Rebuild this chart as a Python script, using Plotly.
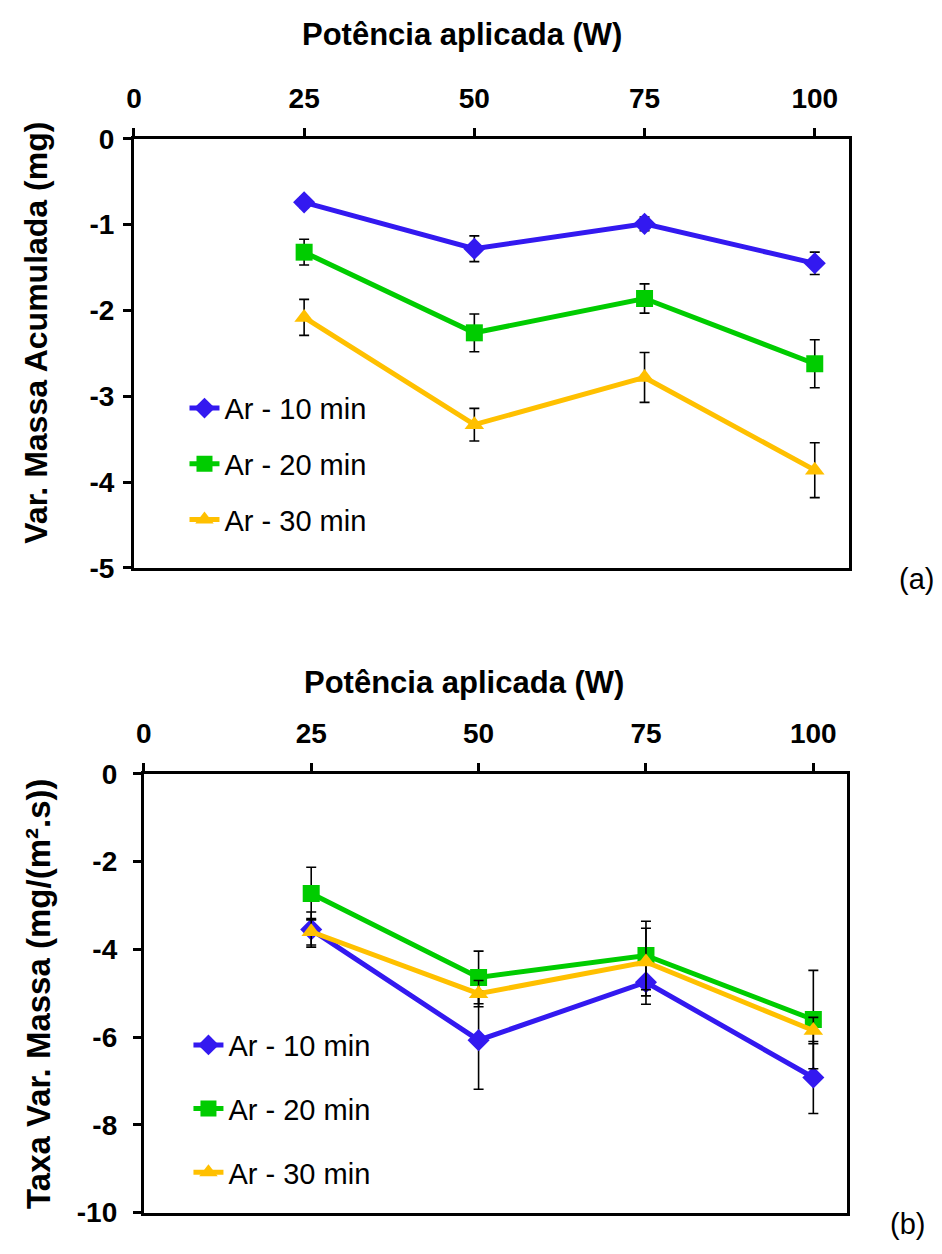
import plotly.graph_objects as go

W, H = 942, 1254
power = [25, 50, 75, 100]
x_ticks = [0, 25, 50, 75, 100]
x_ticktext = ["0", "25", "50", "75", "100"]
ya_ticks = [0, -1, -2, -3, -4, -5]
ya_ticktext = ["0", "-1", "-2", "-3", "-4", "-5"]
yb_ticks = [0, -2, -4, -6, -8, -10]
yb_ticktext = ["0", "-2", "-4", "-6", "-8", "-10"]
names = ["Ar - 10 min", "Ar - 20 min", "Ar - 30 min"]
colors = ["#3319F0", "#00CC00", "#FFC000"]
symbols = ["diamond", "square", "triangle-up"]
msizes = [17, 17, 17]

# Panel (a): accumulated mass variation (mg)
a_vals = [
    [-0.74, -1.28, -0.99, -1.45],
    [-1.32, -2.26, -1.86, -2.62],
    [-2.08, -3.33, -2.78, -3.86],
]
a_err = [
    [0.06, 0.15, 0.08, 0.13],
    [0.15, 0.22, 0.17, 0.28],
    [0.21, 0.19, 0.29, 0.32],
]
# Panel (b): mass variation rate (mg/(m².s))
b_vals = [
    [-3.55, -6.07, -4.75, -6.92],
    [-2.73, -4.64, -4.14, -5.60],
    [-3.60, -5.01, -4.29, -5.85],
]
b_err = [
    [0.40, 1.12, 0.50, 0.82],
    [0.60, 0.60, 0.78, 1.12],
    [0.30, 0.30, 0.77, 0.30],
]

FONT = "Liberation Sans, Arial, sans-serif"
fig = go.Figure()

for i in range(3):
    fig.add_trace(go.Scatter(
        x=power, y=a_vals[i], name=names[i], mode="lines+markers",
        line=dict(color=colors[i], width=5),
        marker=dict(symbol=symbols[i], size=msizes[i], color=colors[i]),
        error_y=dict(type="data", array=a_err[i], color="black", thickness=1.6, width=5),
        xaxis="x", yaxis="y", legend="legend", legendgroup="a%d" % i,
    ))
for i in range(3):
    fig.add_trace(go.Scatter(
        x=power, y=b_vals[i], name=names[i], mode="lines+markers",
        line=dict(color=colors[i], width=5),
        marker=dict(symbol=symbols[i], size=msizes[i], color=colors[i]),
        error_y=dict(type="data", array=b_err[i], color="black", thickness=1.6, width=5),
        xaxis="x2", yaxis="y2", legend="legend2", legendgroup="b%d" % i,
    ))

def px_x(p):
    return p / W

def px_y(p):
    return 1 - p / H

tickfont = dict(family=FONT, size=28, color="black", weight="bold")
common_x = dict(side="top", range=[0, 105], tickvals=x_ticks, ticktext=x_ticktext,
                ticks="outside", ticklen=8, tickwidth=3, tickcolor="black", showline=True,
                linewidth=3, linecolor="black", mirror=True, showgrid=False, zeroline=False,
                tickfont=tickfont, ticklabelstandoff=9)
common_y = dict(ticks="outside", ticklen=8, tickwidth=3, tickcolor="black", showline=True,
                linewidth=3, linecolor="black", mirror=True, showgrid=False, zeroline=False,
                tickfont=tickfont)

legend_common = dict(font=dict(family=FONT, size=29, color="black"), bgcolor="rgba(0,0,0,0)",
                     traceorder="grouped", xanchor="left", yanchor="top", itemwidth=30)

fig.update_layout(
    width=W, height=H, margin=dict(l=0, r=0, t=0, b=0),
    paper_bgcolor="white", plot_bgcolor="white",
    xaxis=dict(common_x, domain=[px_x(127), px_x(848)], anchor="y"),
    yaxis=dict(common_y, domain=[px_y(567), px_y(127)], range=[-5, 0],
               tickvals=ya_ticks, ticktext=ya_ticktext, anchor="x", ticklabelstandoff=3),
    xaxis2=dict(common_x, domain=[px_x(137), px_x(846)], anchor="y2"),
    yaxis2=dict(common_y, domain=[px_y(1228), px_y(778)], range=[-10, 0],
                tickvals=yb_ticks, ticktext=yb_ticktext, anchor="x2", ticklabelstandoff=10),
    legend=dict(legend_common, x=px_x(178), y=px_y(377), tracegroupgap=15),
    legend2=dict(legend_common, x=px_x(182), y=px_y(1030), tracegroupgap=23),
    showlegend=True,
)

title_font = dict(family=FONT, size=31, color="black", weight="bold")
ann = [
    dict(text="Potência aplicada (W)", x=px_x(458), y=px_y(20), font=title_font),
    dict(text="Potência aplicada (W)", x=px_x(460), y=px_y(684), font=title_font),
    dict(text="Var. Massa Acumulada (mg)", x=px_x(28), y=px_y(326),
         font=dict(title_font, size=32), textangle=-90),
    dict(text="Taxa Var. Massa (mg/(m².s))", x=px_x(30), y=px_y(1004),
         font=dict(title_font, size=33), textangle=-90),
    dict(text="(a)", x=px_x(916), y=px_y(578), font=dict(family=FONT, size=29, color="black")),
    dict(text="(b)", x=px_x(907), y=px_y(1240), font=dict(family=FONT, size=29, color="black")),
]
for a in ann:
    fig.add_annotation(xref="paper", yref="paper", showarrow=False,
                       xanchor="center", yanchor="middle", **a)

fig.write_html("out.html")
